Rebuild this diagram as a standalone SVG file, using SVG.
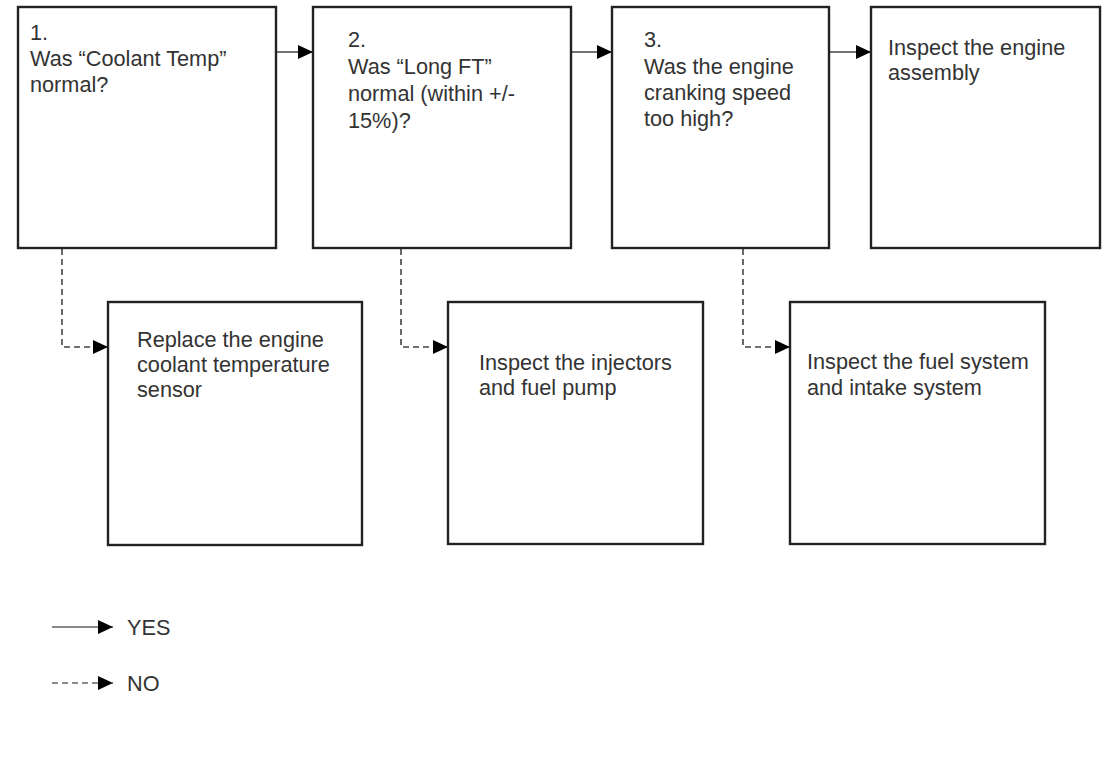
<svg xmlns="http://www.w3.org/2000/svg" width="1105" height="780" viewBox="0 0 1105 780">
<style>
.box{fill:#fff;stroke:#222;stroke-width:2.4}
.t{font-family:"Liberation Sans",Arial,sans-serif;font-size:21.7px;fill:#333}
.yes{fill:none;stroke:#444;stroke-width:1.6}
.no{fill:none;stroke:#444;stroke-width:1.6;stroke-dasharray:6,4}
</style>
<defs>
<marker id="ah" markerUnits="userSpaceOnUse" markerWidth="15" markerHeight="14" refX="15" refY="7" orient="auto">
<path d="M0,0 L15,7 L0,14 z" fill="#000"/>
</marker>
</defs>
<rect width="1105" height="780" fill="#fff"/>
<g id="connectors">
<line class="yes" x1="276" y1="52" x2="313" y2="52" marker-end="url(#ah)"/>
<line class="yes" x1="571" y1="52" x2="612" y2="52" marker-end="url(#ah)"/>
<line class="yes" x1="829" y1="52" x2="871" y2="52" marker-end="url(#ah)"/>
<path class="no" d="M62,249 V347 H108" marker-end="url(#ah)"/>
<path class="no" d="M401,249 V347 H448" marker-end="url(#ah)"/>
<path class="no" d="M743,249 V347 H790" marker-end="url(#ah)"/>
</g>
<g id="n1">
<rect class="box" x="18" y="7" width="258" height="241"/>
<text class="t" x="30" y="40">1.</text>
<text class="t" x="30" y="66">Was “Coolant Temp”</text>
<text class="t" x="30" y="92">normal?</text>
</g>
<g id="n2">
<rect class="box" x="313" y="7" width="258" height="241"/>
<text class="t" x="348" y="47">2.</text>
<text class="t" x="348" y="74">Was “Long FT”</text>
<text class="t" x="348" y="101">normal (within +/-</text>
<text class="t" x="348" y="128">15%)?</text>
</g>
<g id="n3">
<rect class="box" x="612" y="7" width="217" height="241"/>
<text class="t" x="644" y="47">3.</text>
<text class="t" x="644" y="74">Was the engine</text>
<text class="t" x="644" y="100">cranking speed</text>
<text class="t" x="644" y="126">too high?</text>
</g>
<g id="n4">
<rect class="box" x="871" y="7" width="229" height="241"/>
<text class="t" x="888" y="55">Inspect the engine</text>
<text class="t" x="888" y="80">assembly</text>
</g>
<g id="nA">
<rect class="box" x="108" y="302" width="254" height="243"/>
<text class="t" x="137" y="347">Replace the engine</text>
<text class="t" x="137" y="372">coolant temperature</text>
<text class="t" x="137" y="397">sensor</text>
</g>
<g id="nB">
<rect class="box" x="448" y="302" width="255" height="242"/>
<text class="t" x="479" y="370">Inspect the injectors</text>
<text class="t" x="479" y="395">and fuel pump</text>
</g>
<g id="nC">
<rect class="box" x="790" y="302" width="255" height="242"/>
<text class="t" x="807" y="369">Inspect the fuel system</text>
<text class="t" x="807" y="395">and intake system</text>
</g>
<g id="legend">
<line x1="52" y1="627" x2="113" y2="627" stroke="#888" stroke-width="2" marker-end="url(#ah)"/>
<text class="t" x="127" y="635">YES</text>
<line x1="52" y1="683" x2="113" y2="683" stroke="#666" stroke-width="1.6" stroke-dasharray="6,4" marker-end="url(#ah)"/>
<text class="t" x="127" y="691">NO</text>
</g>
</svg>
